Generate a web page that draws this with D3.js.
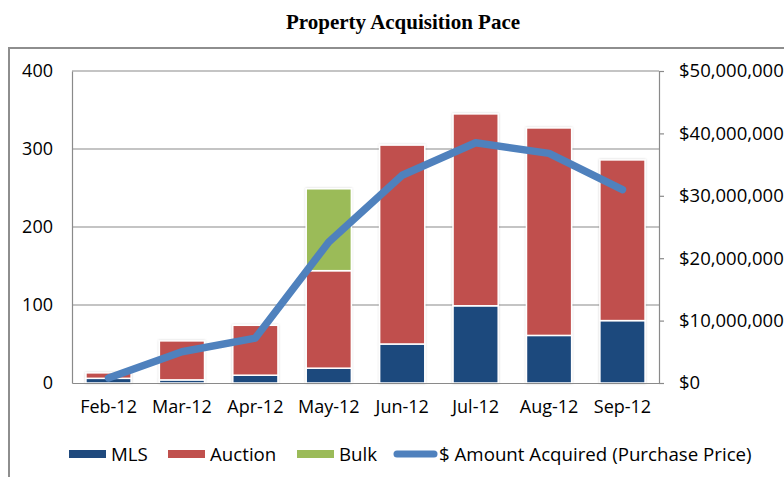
<!DOCTYPE html>
<html>
<head>
<meta charset="utf-8">
<script src="https://cdn.jsdelivr.net/npm/d3@7"></script>
<style>
html,body{margin:0;padding:0;background:#fff;}
svg{display:block;}
</style>
</head>
<body>
<svg id="chart" width="784" height="477"></svg>
<script>
const categories = ["Feb-12","Mar-12","Apr-12","May-12","Jun-12","Jul-12","Aug-12","Sep-12"];
const mls     = [6, 4, 10, 19, 50, 99, 61, 80];
const auction = [7, 50, 64, 125, 255, 246, 266, 206];
const bulk    = [0, 0, 0, 105, 0, 0, 0, 0];
const amount  = [800000, 5000000, 7200000, 22600000, 33300000, 38500000, 36800000, 31000000];
const leftTicks  = [0, 100, 200, 300, 400];
const rightTicks = [0, 10000000, 20000000, 30000000, 40000000, 50000000];
const seriesNames = ["MLS", "Auction", "Bulk"];
const lineName = "$ Amount Acquired (Purchase Price)";
const colors = {MLS:"#1f497d", Auction:"#c0504d", Bulk:"#9bbb59", line:"#4f81bd"};

const svg = d3.select("#chart");
const font = "Open Sans";
const m = {left:72, right:659, top:71, bottom:383};

const x = d3.scaleBand().domain(categories).range([m.left, m.right]).paddingInner(0.385).paddingOuter(0.19);
const y = d3.scaleLinear().domain([0, 400]).range([m.bottom, m.top]);
const y2 = d3.scaleLinear().domain([0, 50000000]).range([m.bottom, m.top]);

// shadow filter for bars
const defs = svg.append("defs");
const f = defs.append("filter").attr("id", "sh").attr("x", "-20%").attr("y", "-20%").attr("width", "140%").attr("height", "140%");
f.append("feDropShadow").attr("dx", 0).attr("dy", 0).attr("stdDeviation", 1.2).attr("flood-color", "#000").attr("flood-opacity", 0.18);

// outer frame
svg.append("rect").attr("x", 9).attr("y", 48).attr("width", 820).attr("height", 460)
  .attr("fill", "none").attr("stroke", "#8e8e8e").attr("stroke-width", 2);

// title
svg.append("text").attr("x", 403).attr("y", 29).attr("text-anchor", "middle")
  .attr("font-family", "Liberation Serif").attr("font-weight", "bold").attr("font-size", 21)
  .attr("fill", "#000").text("Property Acquisition Pace");

// gridlines
svg.append("g").selectAll("line").data(leftTicks.filter(d => d > 0)).join("line")
  .attr("x1", m.left).attr("x2", m.right).attr("y1", d => y(d)).attr("y2", d => y(d))
  .attr("stroke", "#8a8a8a").attr("stroke-width", 1.2);

// left axis
const gl = svg.append("g").attr("transform", `translate(${m.left},0)`)
  .call(d3.axisLeft(y).tickValues(leftTicks).tickSize(0).tickPadding(19).tickFormat(d3.format("d")));
gl.select(".domain").attr("stroke", "#8a8a8a").attr("stroke-width", 1.2);
gl.selectAll("text").attr("font-family", font).attr("font-size", 18).attr("fill", "#000");

// right axis
const gr = svg.append("g").attr("transform", `translate(${m.right},0)`)
  .call(d3.axisRight(y2).tickValues(rightTicks).tickSize(5).tickPadding(15)
    .tickFormat(d => "$" + d3.format(",")(d)));
gr.select(".domain").attr("stroke", "#8a8a8a").attr("stroke-width", 1.2);
gr.selectAll(".tick line").attr("stroke", "#8a8a8a").attr("stroke-width", 1.2);
gr.selectAll("text").attr("font-family", font).attr("font-size", 18.5).attr("fill", "#000");

// bars
const rows = categories.map((c, i) => ({cat: c, MLS: mls[i], Auction: auction[i], Bulk: bulk[i]}));
const stacked = d3.stack().keys(seriesNames)(rows);
const barG = svg.append("g").attr("filter", "url(#sh)");
stacked.forEach(s => {
  barG.append("g").selectAll("rect").data(s.filter(d => d[1] - d[0] > 0)).join("rect")
    .attr("x", d => x(d.data.cat)).attr("width", x.bandwidth())
    .attr("y", d => y(d[1])).attr("height", d => y(d[0]) - y(d[1]))
    .attr("fill", colors[s.key])
    .attr("stroke", "#fff").attr("stroke-width", 1.5);
});

// bottom axis
const gb = svg.append("g").attr("transform", `translate(0,${m.bottom})`)
  .call(d3.axisBottom(x).tickSize(0).tickPadding(17));
gb.select(".domain").attr("stroke", "#8a8a8a").attr("stroke-width", 1.2);
gb.selectAll("text").attr("font-family", font).attr("font-size", 18).attr("fill", "#000");

// line
const line = d3.line().x((d, i) => x(categories[i]) + x.bandwidth() / 2).y(d => y2(d));
svg.append("path").datum(amount).attr("d", line)
  .attr("fill", "none").attr("stroke", colors.line).attr("stroke-width", 7.5)
  .attr("stroke-linejoin", "round").attr("stroke-linecap", "round");

// legend
const lg = svg.append("g").attr("font-family", font).attr("font-size", 18.7);
const legendItems = [
  {name: "MLS", type: "rect", color: colors.MLS, x: 69},
  {name: "Auction", type: "rect", color: colors.Auction, x: 168},
  {name: "Bulk", type: "rect", color: colors.Bulk, x: 297},
  {name: lineName, type: "line", color: colors.line, x: 393}
];
const ly = 454;
legendItems.forEach(it => {
  if (it.type === "rect") {
    lg.append("rect").attr("x", it.x).attr("y", ly - 4).attr("width", 37).attr("height", 8).attr("fill", it.color);
  } else {
    lg.append("line").attr("x1", it.x + 4).attr("x2", it.x + 41).attr("y1", ly).attr("y2", ly)
      .attr("stroke", it.color).attr("stroke-width", 7).attr("stroke-linecap", "round");
  }
  lg.append("text").attr("x", it.x + (it.type === "rect" ? 42 : 46)).attr("y", ly).attr("dy", "0.35em")
    .attr("fill", "#000").text(it.name);
});
</script>
</body>
</html>
